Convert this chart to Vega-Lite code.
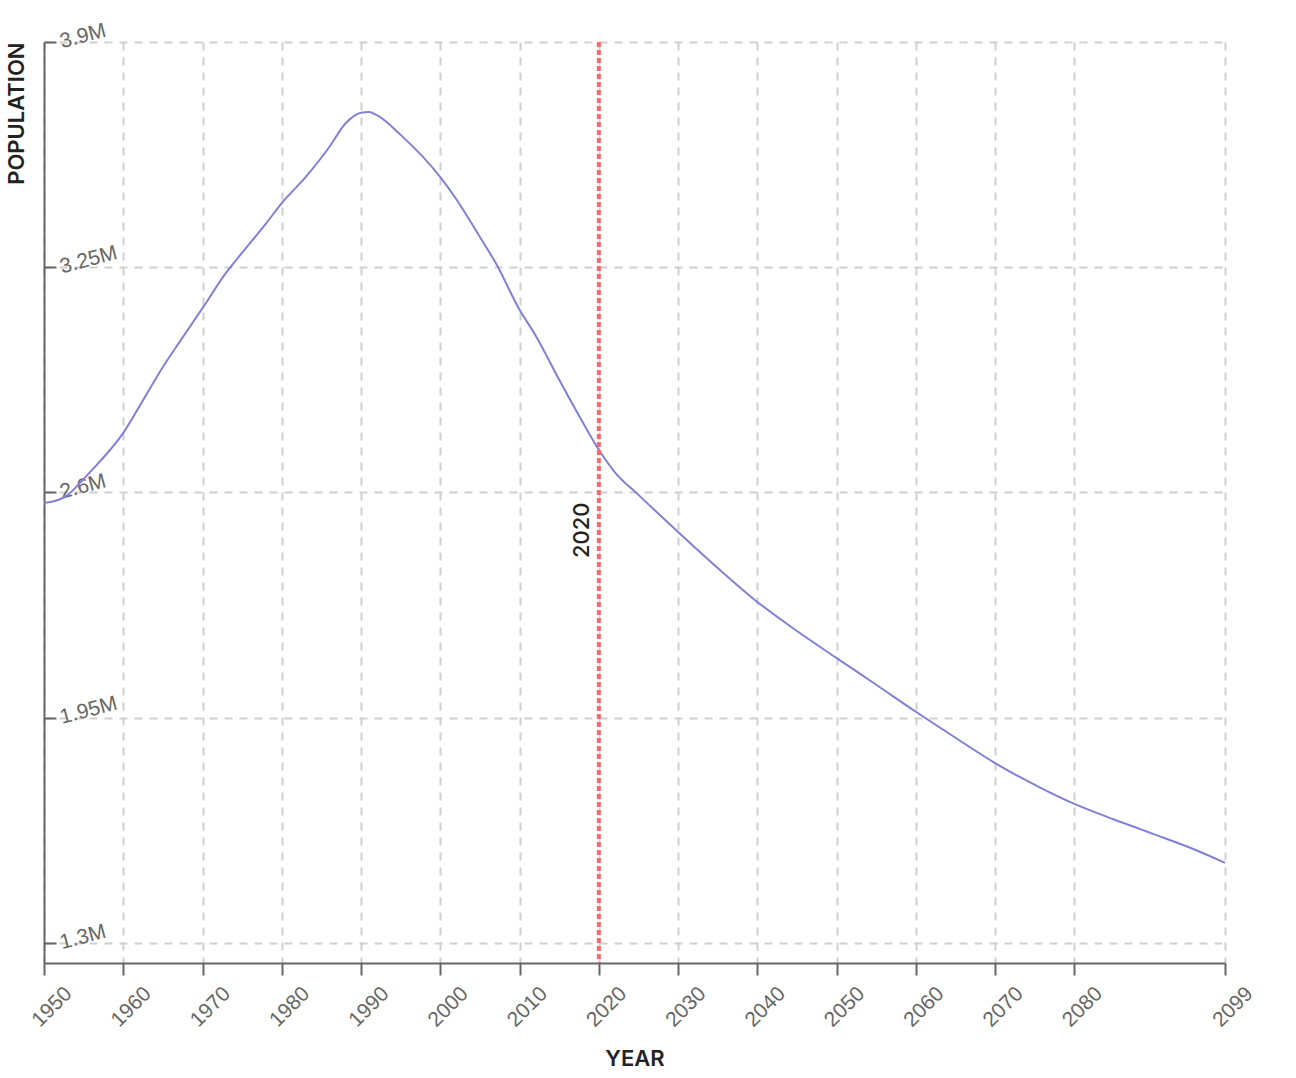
{
  "$schema": "https://vega.github.io/schema/vega-lite/v6.json",
  "width": 1181,
  "height": 921,
  "autosize": {"type": "none"},
  "padding": {"left": 44, "top": 42, "right": 71, "bottom": 115},
  "background": "white",
  "config": {"view": {"stroke": null}},
  "layer": [
    {
      "data": {"values": [
        {"year": 1950, "population": 2570000},
        {"year": 1951, "population": 2573000},
        {"year": 1953, "population": 2593000},
        {"year": 1955, "population": 2639000},
        {"year": 1957, "population": 2688000},
        {"year": 1960, "population": 2772000},
        {"year": 1962, "population": 2847000},
        {"year": 1965, "population": 2962000},
        {"year": 1967, "population": 3031000},
        {"year": 1970, "population": 3132000},
        {"year": 1973, "population": 3235000},
        {"year": 1975, "population": 3292000},
        {"year": 1978, "population": 3376000},
        {"year": 1980, "population": 3435000},
        {"year": 1983, "population": 3510000},
        {"year": 1986, "population": 3597000},
        {"year": 1988, "population": 3664000},
        {"year": 1990, "population": 3696000},
        {"year": 1991, "population": 3698000},
        {"year": 1992, "population": 3689000},
        {"year": 1995, "population": 3632000},
        {"year": 2000, "population": 3510000},
        {"year": 2002, "population": 3447000},
        {"year": 2005, "population": 3337000},
        {"year": 2007, "population": 3262000},
        {"year": 2010, "population": 3127000},
        {"year": 2012, "population": 3054000},
        {"year": 2015, "population": 2925000},
        {"year": 2018, "population": 2801000},
        {"year": 2020, "population": 2723000},
        {"year": 2022, "population": 2659000},
        {"year": 2025, "population": 2593000},
        {"year": 2030, "population": 2486000},
        {"year": 2035, "population": 2382000},
        {"year": 2040, "population": 2284000},
        {"year": 2045, "population": 2200000},
        {"year": 2050, "population": 2122000},
        {"year": 2055, "population": 2045000},
        {"year": 2060, "population": 1967000},
        {"year": 2065, "population": 1892000},
        {"year": 2070, "population": 1819000},
        {"year": 2075, "population": 1756000},
        {"year": 2080, "population": 1701000},
        {"year": 2085, "population": 1656000},
        {"year": 2090, "population": 1614000},
        {"year": 2095, "population": 1571000},
        {"year": 2099, "population": 1531000}
      ]},
      "mark": {"type": "line", "interpolate": "monotone", "color": "#8080d8", "strokeWidth": 2},
      "encoding": {
        "x": {
          "field": "year", "type": "quantitative", "title": "YEAR",
          "scale": {"domain": [1950, 2099], "nice": false, "zero": false},
          "axis": {
            "values": [1950, 1960, 1970, 1980, 1990, 2000, 2010, 2020, 2030, 2040, 2050, 2060, 2070, 2080, 2099],
            "format": "d",
            "labelAngle": -45, "labelAlign": "center", "labelBaseline": "top", "labelPadding": 24,
            "labelFlush": false, "labelOverlap": false,
            "labelFont": "Liberation Sans", "labelFontSize": 21, "labelColor": "#666",
            "tickSize": 12, "tickColor": "#666", "tickWidth": 2,
            "domainColor": "#666", "domainWidth": 2,
            "grid": true, "gridColor": "#cfcfcf", "gridDash": [8, 7], "gridWidth": 2,
            "titleFont": "Inter", "titleFontSize": 22, "titleFontWeight": 600, "titleColor": "#222",
            "titleY": 95, "titleBaseline": "middle"
          }
        },
        "y": {
          "field": "population", "type": "quantitative", "title": "POPULATION",
          "scale": {"domain": [1242000, 3900000], "nice": false, "zero": false},
          "axis": {
            "values": [1300000, 1950000, 2600000, 3250000, 3900000],
            "format": ".3~s",
            "labelAngle": -15, "labelAlign": "left", "labelBaseline": "middle", "labelPadding": -4,
            "labelFlush": false, "labelOverlap": false,
            "labelFont": "Liberation Sans", "labelFontSize": 21, "labelColor": "#666",
            "tickSize": -12, "tickColor": "#666", "tickWidth": 2,
            "domainColor": "#666", "domainWidth": 2,
            "grid": true, "gridColor": "#cfcfcf", "gridDash": [8, 7], "gridWidth": 2,
            "titleFont": "Inter", "titleFontSize": 22, "titleFontWeight": 600, "titleColor": "#222",
            "titleAngle": 270, "titleAlign": "right", "titleBaseline": "middle",
            "titleX": -28, "titleY": 0
          }
        }
      }
    },
    {
      "data": {"values": [{"year": 2020}]},
      "mark": {"type": "rule", "color": "#f66", "strokeWidth": 4, "strokeDash": [5, 3]},
      "encoding": {"x": {"field": "year", "type": "quantitative"}}
    },
    {
      "data": {"values": [{"year": 2020, "population": 2571000, "label": "2020"}]},
      "mark": {"type": "text", "angle": 270, "align": "right", "baseline": "alphabetic", "dy": -10, "font": "Inter", "fontSize": 22, "fontWeight": 500, "color": "#222"},
      "encoding": {
        "x": {"field": "year", "type": "quantitative"},
        "y": {"field": "population", "type": "quantitative"},
        "text": {"field": "label"}
      }
    }
  ]
}
